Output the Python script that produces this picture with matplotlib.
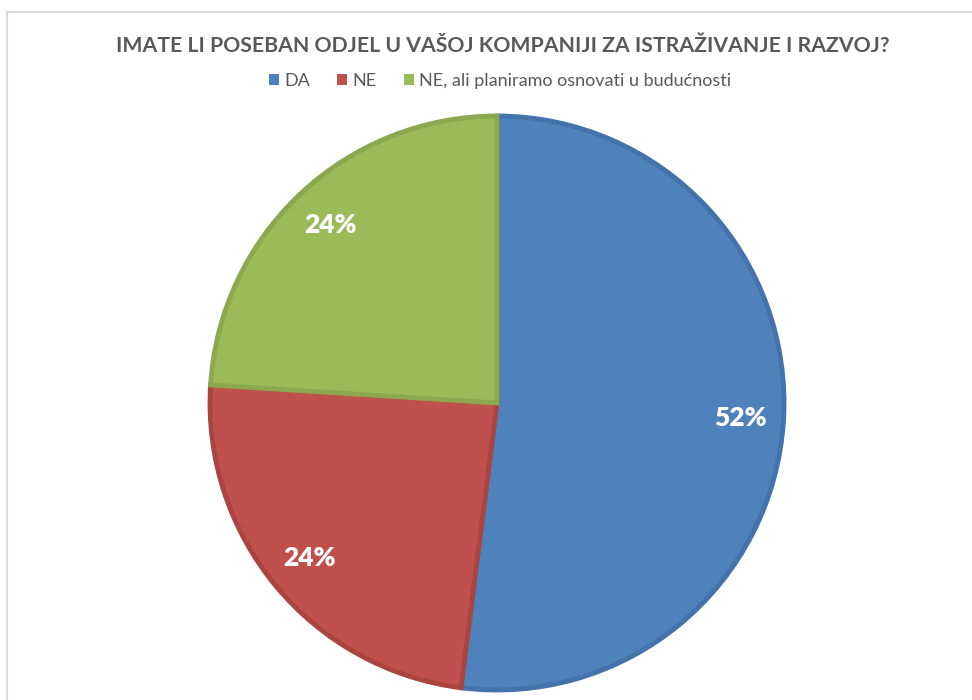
import matplotlib.pyplot as plt
from matplotlib.patches import Rectangle, Patch

# data
labels = ['DA', 'NE', 'NE, ali planiramo osnovati u budućnosti']
shares = [52, 24, 24]
colors = ['#4F81BD', '#C0504D', '#9BBB59']
edges = ['#4472AA', '#A9443F', '#8BA84F']
title = 'IMATE LI POSEBAN ODJEL U VAŠOJ KOMPANIJI ZA ISTRAŽIVANJE I RAZVOJ?'

plt.rcParams['font.family'] = ['Lato', 'DejaVu Sans']

W, H = 972, 700
fig = plt.figure(figsize=(W / 100, H / 100), dpi=100)

# chart frame (cropped on right and bottom)
fig.patches.append(Rectangle((7 / W, -0.1), 1.2, 1 - 12 / H + 0.1,
                             transform=fig.transFigure, fill=False,
                             edgecolor='#D9D9D9', linewidth=1.5))

# pie centred at (497, 403) px, radius 287 px
cx, cy, r, half = 497, 403, 287, 300
ax = fig.add_axes([(cx - half) / W, (H - cy - half) / H, 2 * half / W, 2 * half / H])

wedges, texts, autotexts = ax.pie(shares, colors=colors, startangle=90,
                                  counterclock=False, radius=1,
                                  autopct='%d%%', pctdistance=0.85,
                                  wedgeprops=dict(linewidth=3.5))
ax.set_xlim(-half / r, half / r)
ax.set_ylim(-half / r, half / r)
ax.axis('off')
for w, ec in zip(wedges, edges):
    w.set_edgecolor(ec)
    w.set_joinstyle('miter')
for t in autotexts:
    t.set_color('white')
    t.set_fontsize(19)
    t.set_fontweight('heavy')

fig.text(503 / W, 1 - 46 / H, title, ha='center', va='center',
         fontsize=15.3, fontweight='bold', color='#595959')

handles = [Patch(facecolor=c, edgecolor='none') for c in colors]
fig.legend(handles, labels, loc='center', bbox_to_anchor=(500 / W, 1 - 81 / H),
           ncol=3, frameon=False, fontsize=13, labelcolor='#595959',
           handlelength=0.55, handleheight=0.55, handletextpad=0.3,
           columnspacing=1.5)

fig.savefig('out.png', dpi=100)
